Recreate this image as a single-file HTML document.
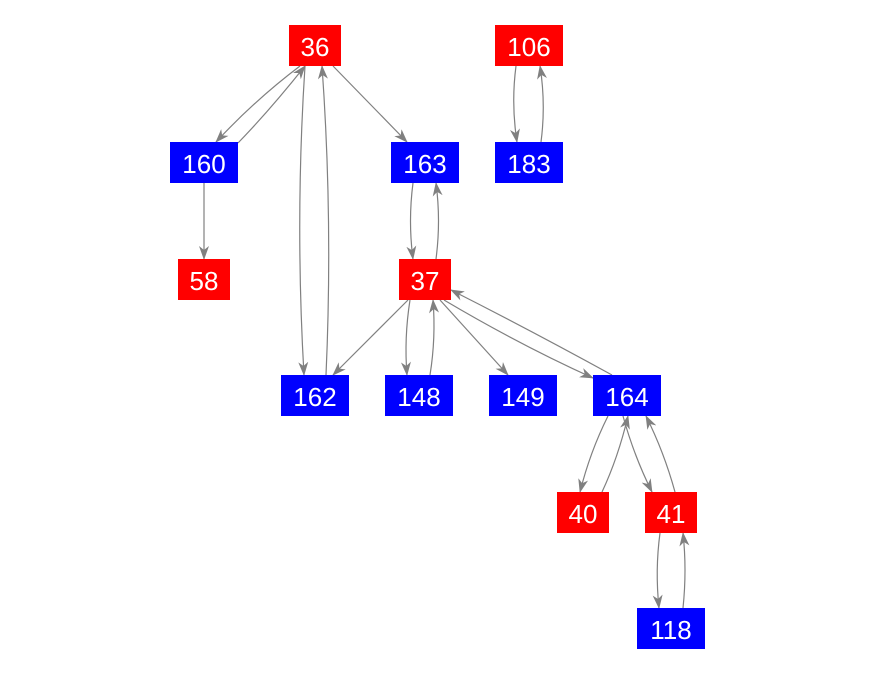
<!DOCTYPE html>
<html><head><meta charset="utf-8"><style>
html,body{margin:0;padding:0;background:#fff;}
svg{display:block}
text{font-family:"Liberation Sans",sans-serif;font-size:26px;fill:#fff;text-anchor:middle;dominant-baseline:central}
</style></head><body>
<svg width="875" height="675" viewBox="0 0 875 675" xmlns="http://www.w3.org/2000/svg">
<defs><marker id="a" markerWidth="14" markerHeight="10" refX="13" refY="5" orient="auto" markerUnits="userSpaceOnUse"><path d="M0,0 L14,5 L0,10 L4,5 Z" fill="#808080"/></marker></defs>
<g fill="none" stroke="#808080" stroke-width="1.2" marker-end="url(#a)">
<path d="M300,66 Q255,100 216,142"/>
<path d="M238,143 Q270,110 305,66"/>
<path d="M305,66 Q295,220 304,375"/>
<path d="M326,375 Q333,220 322,66"/>
<path d="M333,66 L407,142"/>
<path d="M516,66 Q511,104 517,142"/>
<path d="M541,142 Q546,104 540,66"/>
<path d="M204,183 L204,259"/>
<path d="M413,183 Q408,221 413,259"/>
<path d="M436,259 Q441,221 436,183"/>
<path d="M408,300 L333,375"/>
<path d="M410,300 Q404,338 407,375"/>
<path d="M430,375 Q436,338 433,300"/>
<path d="M440,300 L508,375"/>
<path d="M444,300 Q520,345 593,378"/>
<path d="M612,375 Q530,330 451,290"/>
<path d="M608,416 Q590,452 580,492"/>
<path d="M602,492 Q618,458 628,416"/>
<path d="M623,416 Q634,456 652,492"/>
<path d="M675,492 Q664,452 646,416"/>
<path d="M660,533 Q655,570 659,608"/>
<path d="M683,608 Q687,570 683,533"/>
</g>
<g>
<rect x="289" y="25" width="52" height="41" fill="#f00"/><text x="315" y="47">36</text>
<rect x="495" y="25" width="68" height="41" fill="#f00"/><text x="529" y="47">106</text>
<rect x="170" y="142" width="68" height="41" fill="#00f"/><text x="204" y="164">160</text>
<rect x="391" y="142" width="68" height="41" fill="#00f"/><text x="425" y="164">163</text>
<rect x="495" y="142" width="68" height="41" fill="#00f"/><text x="529" y="164">183</text>
<rect x="178" y="259" width="52" height="41" fill="#f00"/><text x="204" y="281">58</text>
<rect x="399" y="259" width="52" height="41" fill="#f00"/><text x="425" y="281">37</text>
<rect x="281" y="375" width="68" height="41" fill="#00f"/><text x="315" y="397">162</text>
<rect x="385" y="375" width="68" height="41" fill="#00f"/><text x="419" y="397">148</text>
<rect x="489" y="375" width="68" height="41" fill="#00f"/><text x="523" y="397">149</text>
<rect x="593" y="375" width="68" height="41" fill="#00f"/><text x="627" y="397">164</text>
<rect x="557" y="492" width="52" height="41" fill="#f00"/><text x="583" y="514">40</text>
<rect x="645" y="492" width="52" height="41" fill="#f00"/><text x="671" y="514">41</text>
<rect x="637" y="608" width="68" height="41" fill="#00f"/><text x="671" y="630">118</text>
</g>
</svg>
</body></html>
